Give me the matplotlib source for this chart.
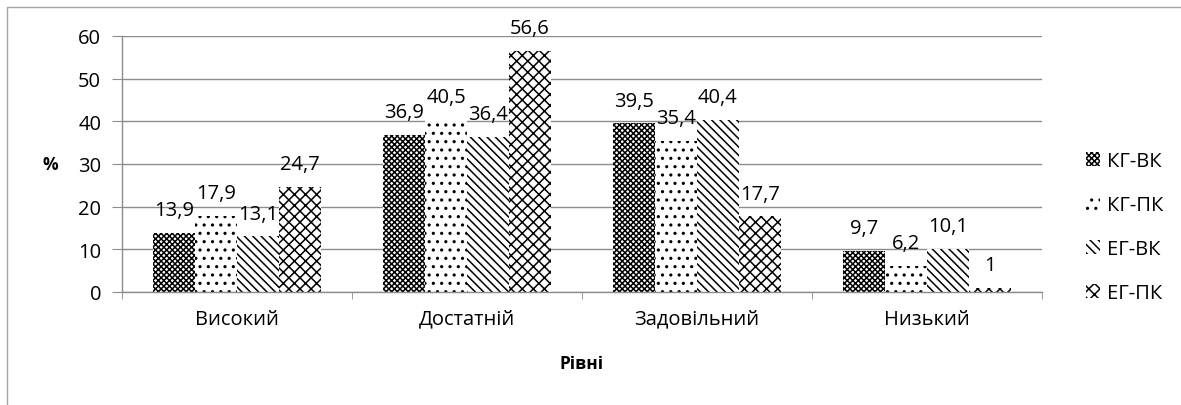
import matplotlib
matplotlib.use("Agg")
import matplotlib.pyplot as plt
import numpy as np
from matplotlib.patches import Rectangle

plt.rcParams['font.family'] = ['Open Sans', 'DejaVu Sans']
plt.rcParams['hatch.linewidth'] = 1.1

categories = ["Високий", "Достатній", "Задовільний", "Низький"]
series_names = ["КГ-ВК", "КГ-ПК", "ЕГ-ВК", "ЕГ-ПК"]
kg_vk = [13.9, 36.9, 39.5, 9.7]
kg_pk = [17.9, 40.5, 35.4, 6.2]
eg_vk = [13.1, 36.4, 40.4, 10.1]
eg_pk = [24.7, 56.6, 17.7, 1.0]
series = [kg_vk, kg_pk, eg_vk, eg_pk]
labels_txt = [["13,9", "36,9", "39,5", "9,7"],
              ["17,9", "40,5", "35,4", "6,2"],
              ["13,1", "36,4", "40,4", "10,1"],
              ["24,7", "56,6", "17,7", "1"]]
hatches = ["xxxxxx", "..", "\\\\\\\\", "xxx"]

fig = plt.figure(figsize=(11.81, 4.06), dpi=100)
ax = fig.add_axes([122/1181, 1-293/406, (1042-122)/1181, (293-37)/406])

fig.patches.append(Rectangle((7/1181, -0.1), 1.2, 1-8/406+0.1, transform=fig.transFigure,
                             fill=False, edgecolor="#a6a6a6", linewidth=1.0))

n = len(series)
bw = 1/(n + 1.5)
x = np.arange(len(categories))
for i, (vals, h) in enumerate(zip(series, hatches)):
    pos = x + (i - (n-1)/2) * bw
    ax.bar(pos, vals, width=bw, facecolor="white", edgecolor="black", linewidth=0,
           hatch=h, label=series_names[i])
    for p, v, t in zip(pos, vals, labels_txt[i]):
        ax.annotate(t, (p, v), xytext=(0, 9), textcoords="offset points",
                    ha="center", va="bottom", fontsize=14.5, color="black",
                    annotation_clip=False)

ax.set_xlim(-0.5, len(categories)-0.5)
ax.set_ylim(0, 60)
ax.set_yticks(range(0, 61, 10))
ax.set_xticks(x)
ax.set_xticklabels(categories)
ax.set_xticks(np.arange(-0.5, len(categories), 1), minor=True)
ax.tick_params(axis='x', which='major', length=0, pad=12, labelsize=14.5)
ax.tick_params(axis='x', which='minor', length=5, color="#8c8c8c", direction='out')
ax.tick_params(axis='y', length=7, color="#8c8c8c", labelsize=14.5, pad=8)
ax.yaxis.grid(True, color="#8c8c8c", linewidth=1)
ax.set_axisbelow(True)
for s in ["top", "right"]:
    ax.spines[s].set_visible(False)
for s in ["left", "bottom"]:
    ax.spines[s].set_color("#8c8c8c")
    ax.spines[s].set_linewidth(1)

ax.set_xlabel("Рівні", fontsize=12.5, fontweight="bold", labelpad=18)
ax.set_ylabel("%", fontsize=12.5, fontweight="bold", rotation=0, labelpad=20, va="center")

leg = fig.legend(loc="center left", bbox_to_anchor=(1068/1181, 1-228/406), frameon=False,
                 fontsize=14.5, handlelength=0.7, handleheight=0.7, labelspacing=1.2,
                 handletextpad=0.35)

fig.savefig("out.png", dpi=100)
